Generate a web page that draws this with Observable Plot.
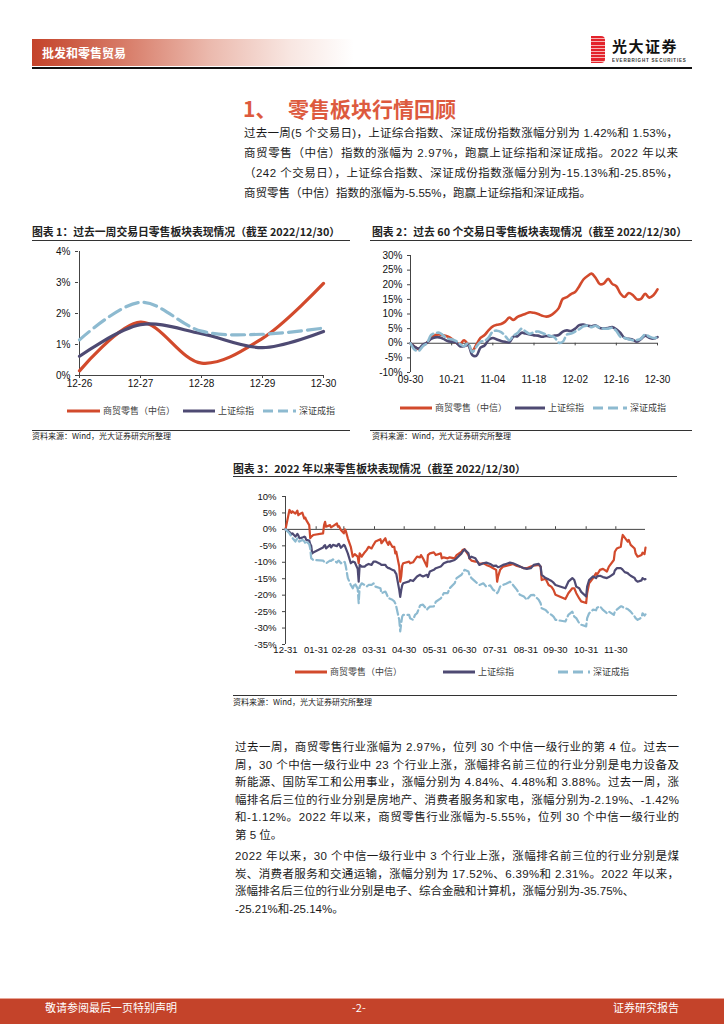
<!DOCTYPE html>
<html lang="zh-CN"><head><meta charset="utf-8">
<script src="https://cdn.jsdelivr.net/npm/d3@7"></script>
<script src="https://cdn.jsdelivr.net/npm/@observablehq/plot@0.6"></script>
<style>
html,body{margin:0;padding:0;background:#fff}
body{width:724px;height:1024px;position:relative;overflow:hidden;font-family:"Liberation Sans","Noto Sans CJK SC",sans-serif;color:#1a1a1a}
.a{position:absolute}
.hdr{left:32px;top:39px;width:322px;height:27px;background:linear-gradient(to right,#c4432a 0%,#d77a66 28%,#ebb9ad 55%,#f8e6e1 80%,#fff 100%)}
.hdrt{left:42px;top:39px;height:27px;line-height:27px;color:#fff;font-weight:bold;font-size:12px;font-family:"Noto Sans CJK SC"}
.hline{left:32px;top:67px;width:660px;height:2px;background:#111}
.logo{left:591px;top:36px;width:14px;height:27px;background:repeating-linear-gradient(to bottom,#e3232b 0px,#e3232b 2.3px,#f6b3b3 2.3px,#f6b3b3 3.2px);border-radius:0 4px 4px 0}
.logot{left:612px;top:37px;font:bold 15px "Noto Sans CJK SC";line-height:18px;color:#111;letter-spacing:1.5px}
.logos{left:612px;top:58px;font:bold 9px "Liberation Sans";color:#333;transform:scale(0.5);transform-origin:0 0;white-space:nowrap;letter-spacing:1.6px}
.h1{top:95px;font:bold 21px "Noto Sans CJK SC";line-height:26px;color:#dd5a3e}
.p{font-size:11.5px;color:#1a1a1a}
.p div{white-space:nowrap}
.ct{font:bold 10.8px "Noto Sans CJK SC";line-height:16px;color:#222;white-space:nowrap}
.ul{height:1px;background:#333}
.src{font:8px "Noto Sans CJK SC";line-height:12px;color:#222;white-space:nowrap}
.lg{font:9px "Noto Sans CJK SC";line-height:14px;color:#404040;white-space:nowrap}
.ft{left:0;top:998px;width:724px;height:26px;background:#c4432a;border-top:1px solid #e8a596}
.ftt{top:999px;height:25px;line-height:25px;color:#fff;font:11px "Noto Sans CJK SC";white-space:nowrap}
</style></head>
<body>
<div class="a hdr"></div>
<div class="a hdrt">批发和零售贸易</div>
<div class="a hline"></div>
<div class="a logo"></div>
<div class="a logot">光大证券</div>
<div class="a logos">EVERBRIGHT SECURITIES</div>

<div class="a h1" style="left:243px">1、</div>
<div class="a h1" style="left:288px">零售板块行情回顾</div>

<div class="a p" style="left:244px;top:123px;width:434px;line-height:20px">
<div class="j">过去一周(5 个交易日)，上证综合指数、深证成份指数涨幅分别为 1.42%和 1.53%，</div>
<div class="j">商贸零售（中信）指数的涨幅为 2.97%，跑赢上证综指和深证成指。2022 年以来</div>
<div class="j">（242 个交易日），上证综合指数、深证成份指数涨幅分别为-15.13%和-25.85%，</div>
<div>商贸零售（中信）指数的涨幅为-5.55%，跑赢上证综指和深证成指。</div>
</div>

<div class="a ct" style="left:32px;top:223px">图表 1：过去一周交易日零售板块表现情况（截至 2022/12/30）</div>
<div class="a ul" style="left:32px;top:240px;width:318px"></div>
<div class="a ct" style="left:372px;top:223px">图表 2：过去 60 个交易日零售板块表现情况（截至 2022/12/30）</div>
<div class="a ul" style="left:370px;top:240px;width:322px"></div>
<div id="c1" class="a"></div>
<div id="c2" class="a"></div>
<div class="a ul" style="left:32px;top:430px;width:318px"></div>
<div class="a src" style="left:32px;top:430px">资料来源：Wind，光大证券研究所整理</div>
<div class="a ul" style="left:370px;top:430px;width:322px"></div>
<div class="a src" style="left:372px;top:430px">资料来源：Wind，光大证券研究所整理</div>

<div class="a ct" style="left:233px;top:460px">图表 3：2022 年以来零售板块表现情况（截至 2022/12/30）</div>
<div class="a ul" style="left:233px;top:476px;width:444px"></div>
<div id="c3" class="a"></div>
<div class="a ul" style="left:233px;top:695px;width:444px"></div>
<div class="a src" style="left:233px;top:696px">资料来源：Wind，光大证券研究所整理</div>

<div class="a p" style="left:235px;top:739px;width:444px;line-height:17.5px">
<div class="j">过去一周，商贸零售行业涨幅为 2.97%，位列 30 个中信一级行业的第 4 位。过去一</div>
<div class="j">周，30 个中信一级行业中 23 个行业上涨，涨幅排名前三位的行业分别是电力设备及</div>
<div class="j">新能源、国防军工和公用事业，涨幅分别为 4.84%、4.48%和 3.88%。过去一周，涨</div>
<div class="j">幅排名后三位的行业分别是房地产、消费者服务和家电，涨幅分别为-2.19%、-1.42%</div>
<div class="j">和-1.12%。2022 年以来，商贸零售行业涨幅为-5.55%，位列 30 个中信一级行业的</div>
<div>第 5 位。</div>
</div>
<div class="a p" style="left:235px;top:848px;width:444px;line-height:17.5px">
<div class="j">2022 年以来，30 个中信一级行业中 3 个行业上涨，涨幅排名前三位的行业分别是煤</div>
<div class="j">炭、消费者服务和交通运输，涨幅分别为 17.52%、6.39%和 2.31%。2022 年以来，</div>
<div>涨幅排名后三位的行业分别是电子、综合金融和计算机，涨幅分别为-35.75%、</div>
<div>-25.21%和-25.14%。</div>
</div>

<div class="a ft"></div>
<div class="a ftt" style="left:45px">敬请参阅最后一页特别声明</div>
<div class="a ftt" style="left:352px">-2-</div>
<div class="a ftt" style="left:613px">证券研究报告</div>

<script>
// ---------- data ----------
const seriesNames = ["商贸零售（中信）", "上证综指", "深证成指"];

// Chart 1: past week (%)
const c1Dates = ["12-26", "12-27", "12-28", "12-29", "12-30"];
const c1Retail = [0.15, 1.72, 0.40, 1.20, 2.97];
const c1SH = [0.62, 1.64, 1.35, 0.90, 1.42];
const c1SZ = [1.15, 2.36, 1.43, 1.33, 1.53];

// Chart 2: past 60 trading days (%), index 0..60
const c2Ticks = ["09-30", "10-21", "11-04", "11-18", "12-02", "12-16", "12-30"];
const c2Retail = [0,-1.2,-2.0,-0.8,0.2,1.8,2.8,3.0,2.7,2.3,
  1.5,0.2,-0.3,1.0,-0.5,-2.6,-0.5,1.8,2.8,4.5,
  5.8,6.3,6.6,7.4,8.8,8.0,9.0,9.6,10.1,10.6,
  10.4,10.0,9.4,9.1,9.5,10.5,12.0,15.2,15.8,16.8,
  17.5,19.5,21.8,23.0,23.8,22.3,20.2,20.5,22.0,20.3,
  19.5,17.0,15.8,17.2,16.5,15.0,15.2,16.9,15.6,16.4,
  18.4];
const c2SH = [0,-1.2,-1.8,-0.5,0.2,1.5,2.0,2.0,1.5,0.8,
  0.5,0.3,-1.0,-1.0,-0.6,-4.0,-4.3,-1.5,-0.8,1.2,
  1.8,1.3,0.8,0.5,0.3,2.3,2.4,3.6,3.3,3.0,
  2.7,2.6,2.2,2.5,2.3,2.6,2.8,4.0,4.4,4.2,
  5.0,6.2,6.4,6.0,5.8,6.1,5.2,5.1,5.2,5.5,
  4.8,3.5,1.8,1.5,1.2,0.5,1.5,2.6,1.9,1.6,
  2.1];
const c2SZ = [0,-2.2,-2.6,-1.0,0,2.8,3.4,3.6,2.6,1.6,
  1.4,0.8,-0.2,-1.0,0,-3.0,-1.2,0.5,0.8,2.0,
  4.0,4.3,3.8,2.5,1.0,2.6,3.5,5.0,4.0,3.2,
  3.8,4.0,3.5,3.0,2.5,2.0,0.2,0.5,3.0,3.3,
  4.0,4.8,5.8,6.0,5.5,6.0,5.2,5.0,5.0,5.3,
  4.2,2.2,1.8,1.4,1.0,1.1,1.6,3.0,2.3,1.8,
  2.0];

// Chart 3: since start of 2022 (%)
const c3Ticks = ["2021-12-31","2022-01-31","2022-02-28","2022-03-31","2022-04-30","2022-05-31",
  "2022-06-30","2022-07-31","2022-08-31","2022-09-30","2022-10-31","2022-11-30"];
const c3Dates = [
  "2021-12-31","2022-01-04","2022-01-06","2022-01-07","2022-01-10","2022-01-12","2022-01-13","2022-01-14","2022-01-17","2022-01-19","2022-01-20","2022-01-21","2022-01-24","2022-01-25","2022-01-26","2022-01-27","2022-01-28",
  "2022-02-07","2022-02-08","2022-02-09","2022-02-10","2022-02-14","2022-02-15","2022-02-17","2022-02-21","2022-02-22","2022-02-23","2022-02-25","2022-02-28",
  "2022-03-01","2022-03-02","2022-03-04","2022-03-07","2022-03-09","2022-03-11","2022-03-14","2022-03-15","2022-03-16","2022-03-18","2022-03-21","2022-03-23","2022-03-25","2022-03-28","2022-03-30",
  "2022-04-01","2022-04-06","2022-04-07","2022-04-11","2022-04-12","2022-04-14","2022-04-15","2022-04-18","2022-04-20","2022-04-21","2022-04-22","2022-04-25","2022-04-26","2022-04-27","2022-04-28","2022-04-29",
  "2022-05-05","2022-05-06","2022-05-09","2022-05-11","2022-05-13","2022-05-16","2022-05-17","2022-05-19","2022-05-23","2022-05-24","2022-05-26","2022-05-30",
  "2022-06-01","2022-06-06","2022-06-07","2022-06-09","2022-06-13","2022-06-15","2022-06-20","2022-06-22","2022-06-27","2022-06-28","2022-06-30",
  "2022-07-04","2022-07-05","2022-07-07","2022-07-11","2022-07-13","2022-07-15","2022-07-19","2022-07-22","2022-07-26","2022-07-29",
  "2022-08-01","2022-08-02","2022-08-03","2022-08-05","2022-08-08","2022-08-11","2022-08-15","2022-08-18","2022-08-22","2022-08-25","2022-08-29",
  "2022-09-01","2022-09-05","2022-09-08","2022-09-13","2022-09-15","2022-09-16","2022-09-20","2022-09-23","2022-09-26","2022-09-28","2022-09-30",
  "2022-10-10","2022-10-13","2022-10-17","2022-10-19","2022-10-21","2022-10-24","2022-10-26","2022-10-31",
  "2022-11-01","2022-11-03","2022-11-07","2022-11-10","2022-11-11","2022-11-14","2022-11-17","2022-11-21","2022-11-23","2022-11-28","2022-11-29",
  "2022-12-01","2022-12-05","2022-12-06","2022-12-07","2022-12-09","2022-12-12","2022-12-13","2022-12-15","2022-12-19","2022-12-20","2022-12-22","2022-12-26","2022-12-27","2022-12-29","2022-12-30"];
const c3Retail = [
  0,5.9,5.0,5.5,4.8,5.7,4.3,4.6,5.1,3.3,3.6,2.8,1.3,-2.7,-2.2,-2.0,-1.7,
  -1.2,1.3,2.3,0.8,1.3,0.6,1.0,1.8,0.8,1.0,-0.2,-1.2,
  0.0,-0.5,-2.7,-5.3,-8.3,-7.5,-8.3,-10.3,-7.3,-8.3,-7.0,-6.3,-5.3,-5.8,-4.7,
  -3.7,-3.0,-4.2,-2.7,-3.7,-4.7,-3.7,-5.3,-5.3,-7.3,-6.8,-11.3,-15.9,-14.3,-11.0,-10.3,
  -9.8,-10.3,-10.0,-9.1,-8.3,-8.5,-7.8,-8.8,-11.3,-7.8,-7.3,-7.0,
  -7.8,-7.3,-8.8,-8.5,-8.8,-8.5,-8.8,-7.8,-6.8,-6.3,-6.0,
  -7.8,-8.8,-9.5,-9.8,-9.8,-10.5,-10.3,-10.8,-11.3,-11.8,
  -12.3,-15.9,-14.3,-12.3,-11.3,-11.1,-10.8,-10.5,-11.1,-11.3,-11.8,
  -11.8,-11.3,-11.0,-10.8,-11.3,-15.4,-15.0,-16.9,-17.5,-18.4,-19.9,
  -21.2,-19.4,-17.9,-17.9,-19.4,-21.0,-21.9,-22.4,
  -19.4,-16.4,-14.8,-13.3,-13.8,-12.3,-12.0,-12.8,-11.3,-9.3,-6.8,
  -5.8,-5.3,-3.2,-1.7,-2.5,-3.7,-3.2,-4.7,-5.8,-7.3,-8.3,-7.8,-7.1,-7.5,-5.55];
const c3SH = [
  0,-0.8,-1.5,-1.2,-2.2,-1.4,-1.8,-2.7,-2.5,-2.2,-2.4,-3.2,-3.4,-4.5,-5.0,-7.3,-7.0,
  -5.5,-5.0,-4.8,-5.8,-4.7,-5.5,-4.7,-5.1,-4.6,-4.4,-5.6,-4.7,
  -5.0,-5.8,-7.3,-10.3,-9.8,-10.0,-12.0,-15.9,-10.8,-11.3,-11.3,-10.8,-10.5,-10.8,-9.8,
  -9.8,-10.5,-10.8,-10.8,-11.3,-11.8,-11.8,-12.3,-12.5,-13.1,-13.5,-18.4,-20.5,-18.5,-17.0,-16.4,
  -15.8,-15.4,-15.7,-15.0,-14.3,-13.8,-14.0,-14.3,-13.8,-14.5,-12.8,-12.3,
  -11.8,-11.3,-11.0,-10.3,-9.8,-9.8,-9.3,-8.8,-7.3,-6.8,-6.1,
  -7.3,-8.8,-8.3,-8.8,-9.8,-10.8,-10.3,-10.1,-10.5,-11.1,
  -11.0,-11.3,-11.5,-11.3,-10.8,-10.5,-10.1,-10.3,-10.8,-11.3,-11.8,
  -12.0,-11.8,-10.8,-10.5,-11.3,-13.8,-14.8,-15.2,-15.7,-16.2,-16.9,
  -17.9,-15.9,-14.8,-15.4,-17.4,-17.9,-19.0,-20.4,
  -17.4,-15.4,-14.3,-14.8,-14.3,-14.1,-14.5,-14.8,-14.5,-13.5,-12.5,
  -11.8,-11.8,-12.0,-12.3,-13.0,-13.3,-13.6,-14.1,-14.8,-15.4,-15.9,-15.5,-14.8,-15.2,-15.13];
const c3SZ = [
  0,-1.2,-2.2,-2.6,-3.7,-2.7,-3.5,-3.7,-3.2,-3.6,-4.2,-3.7,-4.5,-5.8,-8.8,-9.0,-9.3,
  -9.5,-9.8,-10.0,-10.3,-9.5,-9.6,-9.1,-10.1,-9.6,-9.5,-10.3,-9.8,
  -10.0,-11.3,-14.8,-16.9,-17.9,-16.4,-18.0,-22.4,-17.4,-16.4,-16.9,-17.4,-16.9,-16.9,-16.4,
  -17.4,-17.9,-19.4,-18.9,-19.5,-20.9,-21.0,-21.4,-21.9,-22.5,-23.5,-27.5,-31.0,-28.5,-26.5,-26.0,
  -26.0,-27.0,-27.5,-26.0,-25.5,-23.2,-23.0,-22.9,-24.4,-24.0,-23.5,-23.4,
  -22.0,-21.0,-20.5,-19.4,-19.4,-17.9,-16.4,-14.8,-13.8,-13.3,-12.3,
  -12.8,-13.8,-14.8,-15.9,-16.4,-16.9,-16.4,-17.4,-17.0,-18.4,
  -18.9,-19.4,-19.0,-17.4,-16.9,-16.5,-15.9,-16.9,-18.4,-19.9,-20.4,
  -21.4,-20.0,-19.9,-21.4,-22.5,-24.0,-24.5,-25.5,-26.0,-26.5,-27.5,
  -28.0,-26.0,-25.0,-26.5,-27.0,-28.5,-29.0,-29.5,
  -27.0,-25.5,-24.4,-24.6,-23.8,-23.4,-24.5,-25.5,-25.0,-26.0,-25.0,
  -24.4,-23.4,-23.4,-23.6,-24.0,-24.2,-24.5,-25.0,-26.5,-27.0,-27.5,-26.8,-25.5,-26.2,-25.85];

// ---------- styles ----------
const RED = "#d24a2c", PUR = "#4e4a73", BLU = "#8dbad0", AX = "#444";
const pct = d => d + "%";
const baseStyle = {fontFamily: '"Liberation Sans", Arial, sans-serif', fontSize: "10px", color: "#111", background: "none", overflow: "visible"};

function place(id, svg, left, top) {
  const el = document.getElementById(id);
  el.style.left = left + "px"; el.style.top = top + "px";
  el.appendChild(svg);
}

// ---------- chart 1 ----------
const c1Rows = (vals) => vals.map((v, k) => ({d: c1Dates[k], v}));
const chart1 = Plot.plot({
  width: 305, height: 154, marginLeft: 40, marginRight: 20, marginTop: 10, marginBottom: 20,
  style: baseStyle,
  x: {type: "point", domain: c1Dates, padding: 0},
  y: {domain: [0, 4]},
  marks: [
    Plot.ruleY([0], {stroke: AX}),
    Plot.ruleX([c1Dates[0]], {stroke: AX}),
    Plot.axisY({ticks: [0, 1, 2, 3, 4], tickFormat: pct, tickSize: 3, tickPadding: 5, stroke: AX, label: null}),
    Plot.axisX({tickSize: 3, tickPadding: 1, stroke: AX, label: null}),
    Plot.line(c1Rows(c1Retail), {x: "d", y: "v", stroke: RED, strokeWidth: 3.2, curve: "catmull-rom"}),
    Plot.line(c1Rows(c1SH), {x: "d", y: "v", stroke: PUR, strokeWidth: 3.2, curve: "catmull-rom"}),
    Plot.line(c1Rows(c1SZ), {x: "d", y: "v", stroke: BLU, strokeWidth: 3.2, curve: "catmull-rom", strokeDasharray: "13 6"})
  ]
});
place("c1", chart1, 38, 241);

// ---------- chart 2 ----------
const c2Rows = (vals) => vals.map((v, i) => ({i, v}));
const c2TickIdx = c2Ticks.map((_, k) => k * 10);
const chart2 = Plot.plot({
  width: 307, height: 145, marginLeft: 40, marginRight: 20, marginTop: 10, marginBottom: 18,
  style: baseStyle,
  x: {domain: [0, c2Retail.length - 1]},
  y: {domain: [-10, 30]},
  marks: [
    Plot.ruleY([0], {stroke: AX}),
    Plot.ruleX([0], {stroke: AX}),
    Plot.ruleX(c2TickIdx, {x: d => d, y1: 0, y2: -0.9, stroke: AX}),
    Plot.axisY({ticks: d3.range(-10, 31, 5), tickFormat: pct, tickSize: 3, tickPadding: 5, stroke: AX, label: null}),
    Plot.axisX({ticks: c2TickIdx, tickFormat: i => c2Ticks[i / 10], tickSize: 0, tickPadding: 3, label: null}),
    Plot.line(c2Rows(c2Retail), {x: "i", y: "v", stroke: RED, strokeWidth: 2.6, curve: "catmull-rom"}),
    Plot.line(c2Rows(c2SH), {x: "i", y: "v", stroke: PUR, strokeWidth: 2.6, curve: "catmull-rom"}),
    Plot.line(c2Rows(c2SZ), {x: "i", y: "v", stroke: BLU, strokeWidth: 2.6, curve: "catmull-rom", strokeDasharray: "9 4"})
  ]
});
place("c2", chart2, 370, 245);

// ---------- chart 3 ----------
const parse = d3.utcParse("%Y-%m-%d");
const c3Rows = (vals) => vals.map((v, k) => ({d: parse(c3Dates[k]), v}));
const c3TickDates = c3Ticks.map(parse);
const chart3 = Plot.plot({
  width: 420, height: 176, marginLeft: 45, marginRight: 15, marginTop: 11, marginBottom: 17,
  style: {...baseStyle, fontSize: "9.5px"},
  x: {type: "utc", domain: [parse("2021-12-31"), parse("2022-12-30")]},
  y: {domain: [-35, 10]},
  marks: [
    Plot.ruleY([0], {stroke: AX}),
    Plot.ruleX([parse("2021-12-31")], {stroke: AX}),
    Plot.ruleX(c3TickDates, {x: d => d, y1: 0, y2: 0.8, stroke: AX}),
    Plot.axisY({ticks: d3.range(-35, 11, 5), tickFormat: pct, tickSize: 3, tickPadding: 6, stroke: AX, label: null}),
    Plot.axisX({ticks: c3TickDates, tickFormat: d3.utcFormat("%m-%d"), tickSize: 0, tickPadding: 2, label: null}),
    Plot.line(c3Rows(c3Retail), {x: "d", y: "v", stroke: RED, strokeWidth: 2.2}),
    Plot.line(c3Rows(c3SH), {x: "d", y: "v", stroke: PUR, strokeWidth: 2.2}),
    Plot.line(c3Rows(c3SZ), {x: "d", y: "v", stroke: BLU, strokeWidth: 2.2, strokeDasharray: "8 3.5"})
  ]
});
place("c3", chart3, 240, 485);

// ---------- legends ----------
const colors = [RED, PUR, BLU];
const dashes = [null, null, "10 5"];
function legend(cy, layout) {
  layout.forEach(([x1, x2, tx], k) => {
    const svg = d3.create("svg").attr("width", x2 - x1).attr("height", 6)
      .style("position", "absolute").style("left", x1 + "px").style("top", (cy - 3) + "px");
    svg.append("line").attr("x1", 0).attr("x2", x2 - x1).attr("y1", 3).attr("y2", 3)
      .attr("stroke", colors[k]).attr("stroke-width", 3).attr("stroke-dasharray", dashes[k]);
    document.body.appendChild(svg.node());
    const t = document.createElement("div");
    t.className = "a lg"; t.style.left = tx + "px"; t.style.top = (cy - 7) + "px";
    t.textContent = seriesNames[k];
    document.body.appendChild(t);
  });
}
legend(411, [[67, 100, 103], [183, 215, 218], [263, 296, 299]]);
legend(408, [[400, 432, 435], [515, 545, 548], [593, 627, 630]]);
legend(672, [[295, 327, 330], [443, 475, 478], [558, 590, 593]]);

// ---------- justify text lines ----------
function justify() {
  document.querySelectorAll(".j").forEach(el => {
    el.style.letterSpacing = "0px";
    const r = document.createRange(); r.selectNodeContents(el);
    const w = r.getBoundingClientRect().width;
    const target = el.parentElement.clientWidth;
    const n = [...el.textContent].length;
    el.style.letterSpacing = ((target - w) / (n - 1)) + "px";
  });
}
justify();
if (document.fonts && document.fonts.ready) document.fonts.ready.then(justify);
</script>
</body></html>
